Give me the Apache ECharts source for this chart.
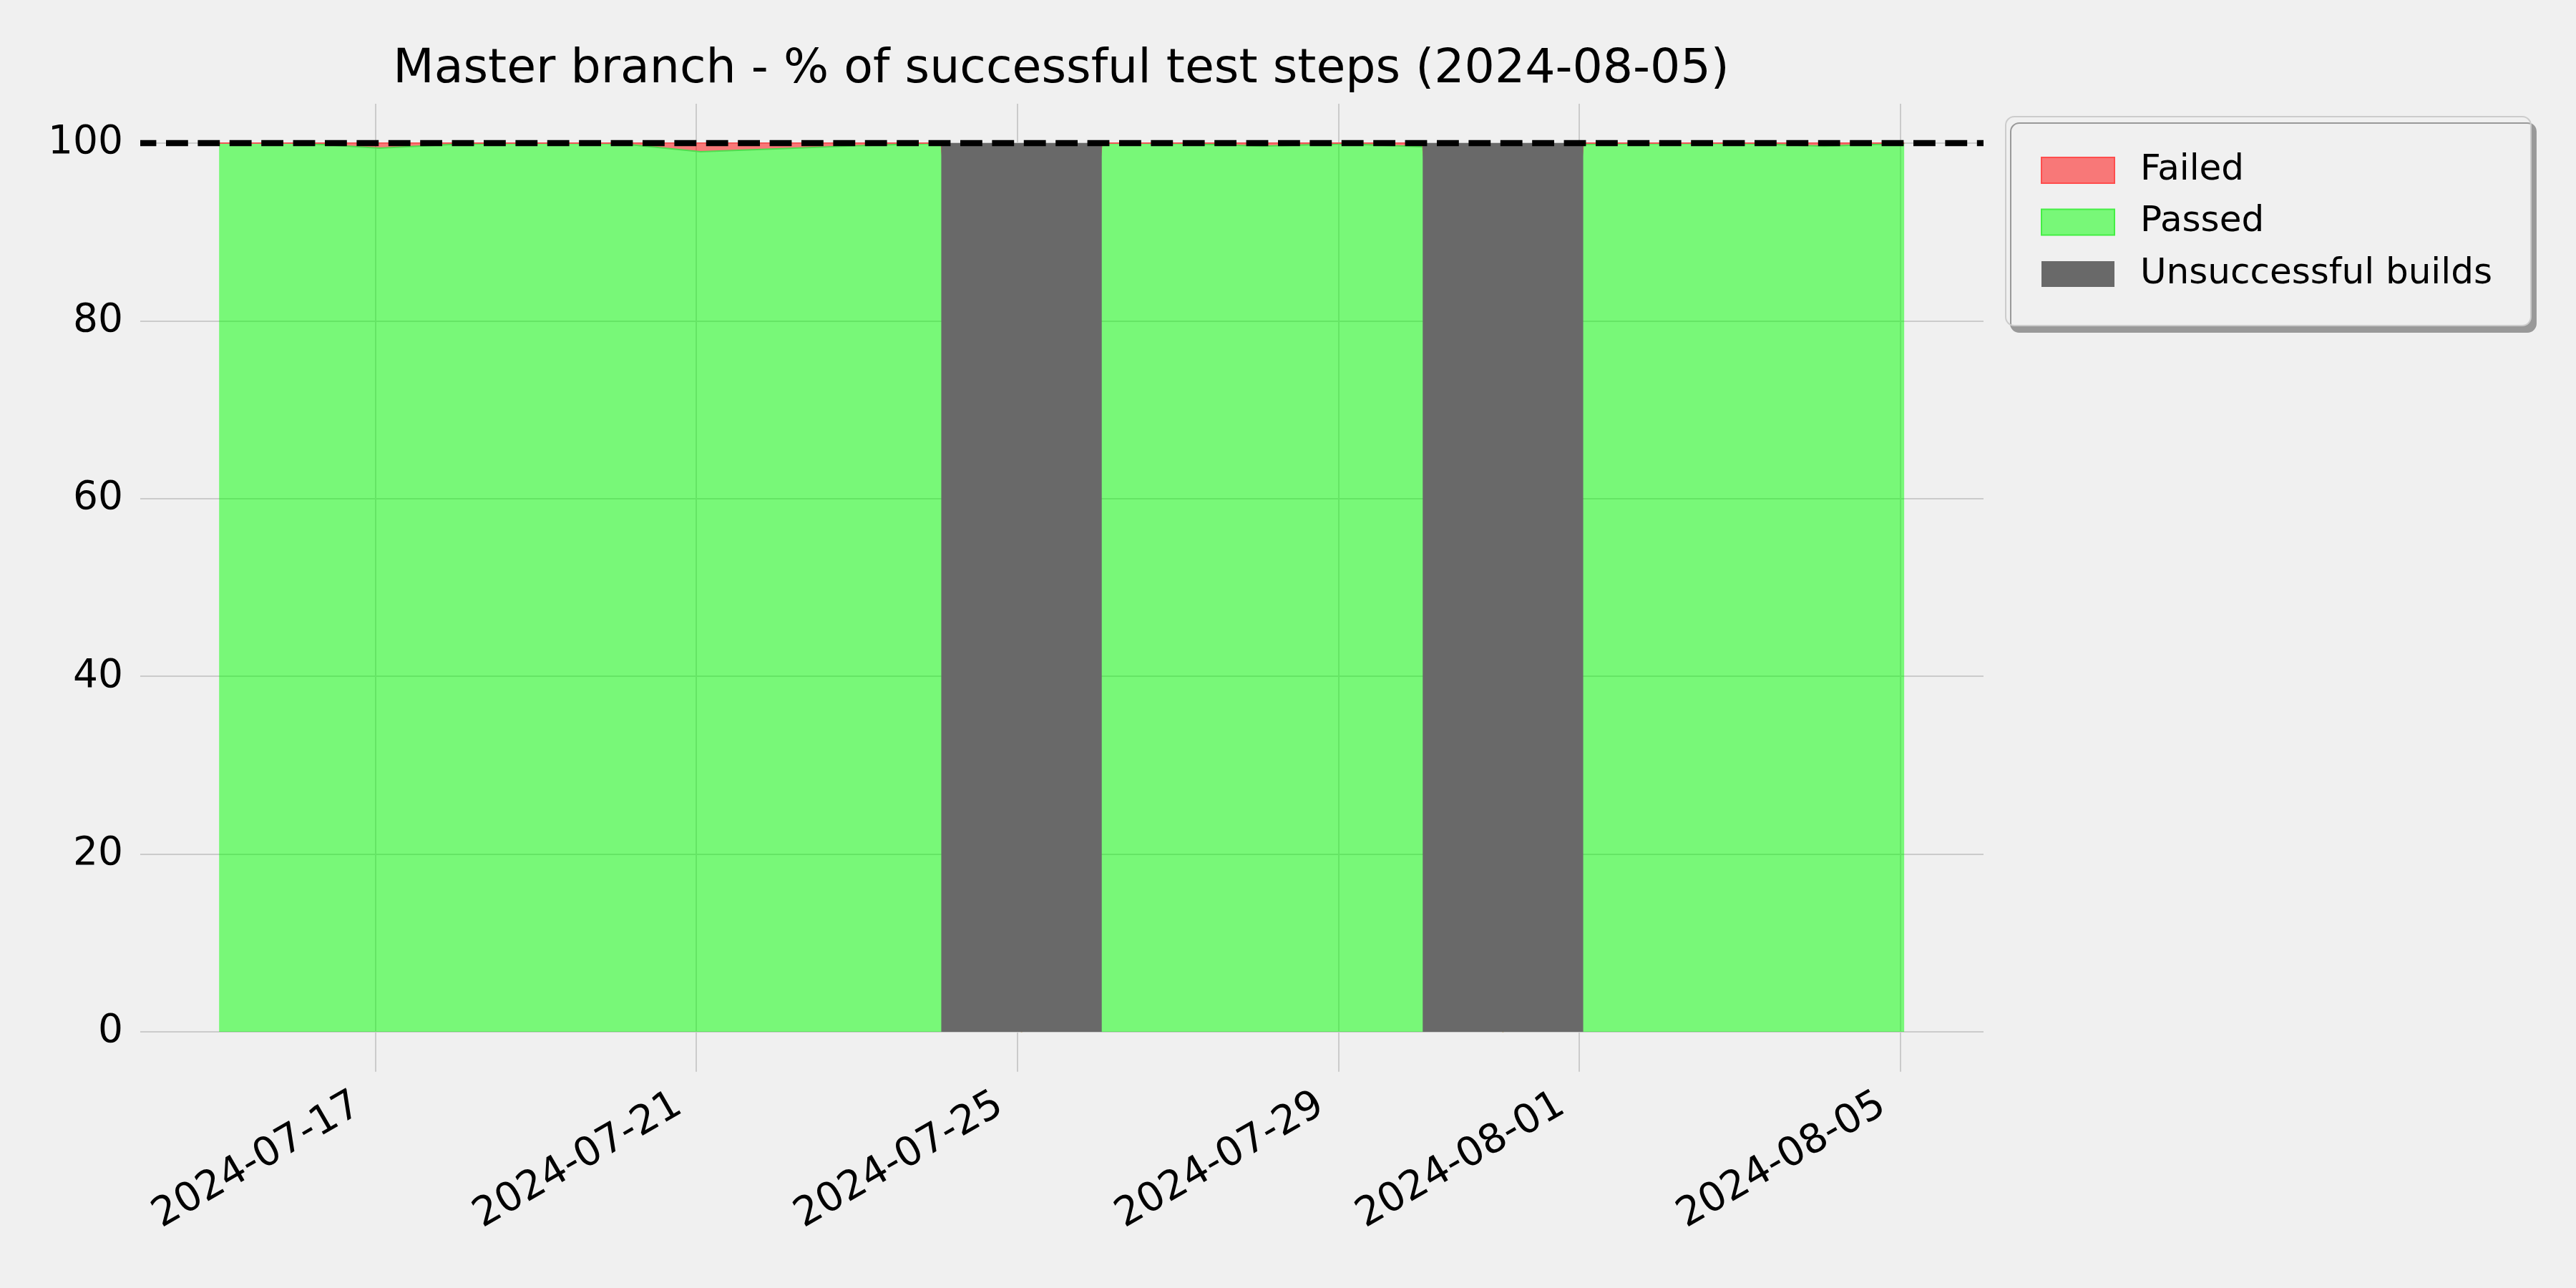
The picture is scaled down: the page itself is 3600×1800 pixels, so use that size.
<!DOCTYPE html>
<html>
<head>
<meta charset="utf-8">
<script src="https://cdn.jsdelivr.net/npm/echarts@6/dist/echarts.min.js"></script>
<style>
html,body{margin:0;padding:0;background:#f0f0f0;}
#chart{width:3600px;height:1800px;}
</style>
</head>
<body>
<div id="chart"></div>
<script>
// ---- data ----
const dates = [
  '2024-07-15T01:15:00','2024-07-16T01:15:00','2024-07-17T01:15:00','2024-07-18T01:15:00',
  '2024-07-19T01:15:00','2024-07-20T01:15:00','2024-07-21T01:15:00','2024-07-22T01:15:00',
  '2024-07-23T01:15:00','2024-07-24T01:15:00','2024-07-25T01:15:00','2024-07-26T01:15:00',
  '2024-07-27T01:15:00','2024-07-28T01:15:00','2024-07-29T01:15:00','2024-07-30T01:15:00',
  '2024-07-31T01:15:00','2024-08-01T01:15:00','2024-08-02T01:15:00','2024-08-03T01:15:00',
  '2024-08-04T01:15:00','2024-08-05T01:15:00'
];
const failedPct = [0, 0, 0.56, 0.1, 0, 0.05, 0.97, 0.62, 0.27, 0, 0, 0, 0.03, 0.35, 0.08, 0.4, 0, 0.12, 0.03, 0.03, 0.35, 0.03];
const passedPct = [100, 100, 99.44, 99.9, 100, 99.95, 99.03, 99.38, 99.73, 100, 0, 100, 99.97, 99.65, 99.92, 99.6, 0, 99.88, 99.97, 99.97, 99.65, 99.97];
const unsuccessfulFrom = ['2024-07-24T01:15:00', '2024-07-30T01:15:00'];
const unsuccessfulTo = ['2024-07-26T01:15:00', '2024-08-01T01:15:00'];
const unsuccessfulPct = [100, 100];
const xTickLabels = ['2024-07-17', '2024-07-21', '2024-07-25', '2024-07-29', '2024-08-01', '2024-08-05'];
const yTickLabels = [0, 20, 40, 60, 80, 100];
const targetPct = 100;
const titleText = 'Master branch - % of successful test steps (2024-08-05)';

// ---- chart ----
const FONT = 'DejaVu Sans';
const ts = s => +new Date(s);
const xTickValues = xTickLabels.map(s => ts(s + 'T00:00:00'));
const pad2 = n => (n < 10 ? '0' : '') + n;
const fmtDate = v => { const d = new Date(v); return d.getFullYear() + '-' + pad2(d.getMonth() + 1) + '-' + pad2(d.getDate()); };
const chart = echarts.init(document.getElementById('chart'), null, {renderer: 'canvas'});

const option = {
  backgroundColor: '#f0f0f0',
  animation: false,
  title: {
    text: titleText,
    left: 1478,
    textAlign: 'center',
    top: 59,
    textStyle: {fontFamily: FONT, fontSize: 66.5, fontWeight: 'normal', color: '#000'}
  },
  legend: {
    orient: 'vertical',
    left: 2803,
    top: 163,
    padding: [50, 54, 47, 49],
    itemWidth: 102,
    itemHeight: 36,
    itemGap: 22.5,
    selectedMode: false,
    backgroundColor: '#f0f0f0',
    borderColor: '#cccccc',
    borderWidth: 2,
    borderRadius: 12,
    shadowColor: '#999999',
    shadowBlur: 0,
    shadowOffsetX: 7,
    shadowOffsetY: 9,
    textStyle: {fontFamily: FONT, fontSize: 50, color: '#000', padding: [0, 0, 0, 31]},
    data: [
      {name: 'Failed', icon: 'rect', itemStyle: {color: '#f87878', borderColor: '#ff4d4d', borderWidth: 2}},
      {name: 'Passed', icon: 'rect', itemStyle: {color: '#78f878', borderColor: '#44ee44', borderWidth: 2}},
      {name: 'Unsuccessful builds', icon: 'rect', itemStyle: {color: '#696969', borderWidth: 0}}
    ]
  },
  grid: {left: 196, top: 145, width: 2576, height: 1352.7, containLabel: false},
  xAxis: {
    type: 'value',
    min: ts('2024-07-14T01:40:00'),
    max: ts('2024-08-06T00:59:00'),
    axisLine: {show: false},
    axisTick: {show: false, customValues: xTickValues},
    splitLine: {show: true, showMinLine: true, showMaxLine: true, lineStyle: {color: '#cbcbcb', width: 2}},
    axisLabel: {
      customValues: xTickValues,
      rotate: 30,
      margin: 29,
      padding: [0, 28, 0, 0],
      fontFamily: FONT, fontSize: 56, color: '#000',
      formatter: v => fmtDate(v),
      hideOverlap: false
    }
  },
  yAxis: {
    type: 'value',
    min: -4.48,
    max: 104.43,
    axisLine: {show: false},
    axisTick: {show: false, customValues: yTickLabels},
    splitLine: {show: true, showMinLine: true, showMaxLine: true, lineStyle: {color: '#cbcbcb', width: 2}},
    axisLabel: {customValues: yTickLabels, margin: 24, fontFamily: FONT, fontSize: 55, color: '#000'}
  },
  series: [
    {
      name: 'Passed', type: 'line', stack: 'pct', symbol: 'none', z: 2,
      encode: {x: 1, y: 0},
      data: dates.map((d, i) => [passedPct[i], ts(d)]),
      lineStyle: {color: '#4fdc4f', width: 2},
      itemStyle: {color: '#78f878'},
      areaStyle: {color: 'rgba(0,255,0,0.5)', opacity: 1}
    },
    {
      name: 'Failed', type: 'line', stack: 'pct', symbol: 'none', z: 2,
      encode: {x: 1, y: 0},
      data: dates.map((d, i) => [failedPct[i], ts(d)]),
      lineStyle: {color: '#f25555', width: 2},
      itemStyle: {color: '#f87878'},
      areaStyle: {color: 'rgba(255,0,0,0.5)', opacity: 1}
    },
    {
      name: 'Unsuccessful builds', type: 'custom', z: 3,
      encode: {x: [0, 1], y: 2},
      data: unsuccessfulFrom.map((d, i) => [ts(d), ts(unsuccessfulTo[i]), unsuccessfulPct[i]]),
      itemStyle: {color: '#696969'},
      renderItem: (params, api) => {
        const p0 = api.coord([api.value(0), api.value(2)]);
        const p1 = api.coord([api.value(1), 0]);
        return {type: 'rect', shape: {x: p0[0], y: p0[1], width: p1[0] - p0[0], height: p1[1] - p0[1]},
          style: {fill: '#696969'}};
      }
    },
    {
      name: 'target', type: 'line', data: [], z: 5,
      markLine: {
        silent: true, symbol: 'none', z: 5,
        label: {show: false},
        lineStyle: {color: '#000', width: 8.3, type: [30.8, 13.6], dashOffset: 8.4},
        data: [{yAxis: targetPct}]
      }
    }
  ]
};
chart.setOption(option);
</script>
</body>
</html>
